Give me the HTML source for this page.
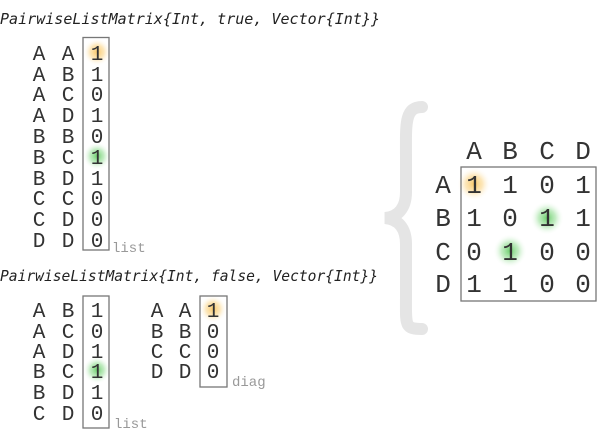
<!DOCTYPE html>
<html><head><meta charset="utf-8"><style>
html,body{margin:0;padding:0;background:#fff;width:600px;height:440px;overflow:hidden}
svg{display:block}
.t{font-family:"DejaVu Sans Mono","Liberation Mono",monospace;font-style:italic;font-size:15px;fill:#222}
.c{font-family:"Liberation Mono","DejaVu Sans Mono",monospace;font-size:21px;fill:#333;text-anchor:middle}
.m{font-family:"Liberation Mono","DejaVu Sans Mono",monospace;font-size:26px;fill:#333;text-anchor:middle}
.g{font-family:"Liberation Mono",monospace;font-size:14px;fill:#999}
</style></head><body>
<svg width="600" height="440" viewBox="0 0 600 440" xmlns="http://www.w3.org/2000/svg">
<defs>
<radialGradient id="o"><stop offset="0" stop-color="#f8c25a" stop-opacity="0.9"/><stop offset="0.5" stop-color="#fbd78c" stop-opacity="0.6"/><stop offset="1" stop-color="#fff" stop-opacity="0"/></radialGradient>
<radialGradient id="gr"><stop offset="0" stop-color="#5cc95c" stop-opacity="0.9"/><stop offset="0.5" stop-color="#9be09b" stop-opacity="0.6"/><stop offset="1" stop-color="#fff" stop-opacity="0"/></radialGradient>
</defs>
<text class="t" x="0" y="24" textLength="380" lengthAdjust="spacingAndGlyphs">PairwiseListMatrix{Int, true, Vector{Int}}</text>
<circle cx="97" cy="52" r="14" fill="url(#o)"/>
<circle cx="97" cy="156" r="14" fill="url(#gr)"/>
<rect x="83" y="37.5" width="26" height="212.5" fill="none" stroke="#777" stroke-width="1.3"/>
<g class="c">
<text x="39" y="60">A</text><text x="68" y="60">A</text><text x="97" y="60">1</text>
<text x="39" y="81">A</text><text x="68" y="81">B</text><text x="97" y="81">1</text>
<text x="39" y="101">A</text><text x="68" y="101">C</text><text x="97" y="101">0</text>
<text x="39" y="122">A</text><text x="68" y="122">D</text><text x="97" y="122">1</text>
<text x="39" y="143">B</text><text x="68" y="143">B</text><text x="97" y="143">0</text>
<text x="39" y="164">B</text><text x="68" y="164">C</text><text x="97" y="164">1</text>
<text x="39" y="185">B</text><text x="68" y="185">D</text><text x="97" y="185">1</text>
<text x="39" y="205">C</text><text x="68" y="205">C</text><text x="97" y="205">0</text>
<text x="39" y="226">C</text><text x="68" y="226">D</text><text x="97" y="226">0</text>
<text x="39" y="247">D</text><text x="68" y="247">D</text><text x="97" y="247">0</text>
</g>
<text class="g" x="112" y="252">list</text>

<text class="t" x="0" y="281" textLength="378" lengthAdjust="spacingAndGlyphs">PairwiseListMatrix{Int, false, Vector{Int}}</text>
<circle cx="97" cy="370" r="14" fill="url(#gr)"/>
<circle cx="213" cy="309" r="14" fill="url(#o)"/>
<rect x="83" y="296" width="26" height="132" fill="none" stroke="#777" stroke-width="1.3"/>
<rect x="200" y="296" width="27" height="91" fill="none" stroke="#777" stroke-width="1.3"/>
<g class="c">
<text x="39" y="317">A</text><text x="68" y="317">B</text><text x="97" y="317">1</text>
<text x="39" y="338">A</text><text x="68" y="338">C</text><text x="97" y="338">0</text>
<text x="39" y="358">A</text><text x="68" y="358">D</text><text x="97" y="358">1</text>
<text x="39" y="378">B</text><text x="68" y="378">C</text><text x="97" y="378">1</text>
<text x="39" y="399">B</text><text x="68" y="399">D</text><text x="97" y="399">1</text>
<text x="39" y="420">C</text><text x="68" y="420">D</text><text x="97" y="420">0</text>
<text x="157" y="317">A</text><text x="185" y="317">A</text><text x="213" y="317">1</text>
<text x="157" y="338">B</text><text x="185" y="338">B</text><text x="213" y="338">0</text>
<text x="157" y="358">C</text><text x="185" y="358">C</text><text x="213" y="358">0</text>
<text x="157" y="378">D</text><text x="185" y="378">D</text><text x="213" y="378">0</text>
</g>
<text class="g" x="114" y="428">list</text>
<text class="g" x="232" y="386">diag</text>

<path d="M422 107 C404 107 406 125 406 160 L406 192 C406 208 398 217 385 218 C398 219 406 228 406 244 L406 295 C406 325 404 329 422 329" fill="none" stroke="#e5e5e5" stroke-width="12" stroke-linecap="round"/>

<circle cx="474" cy="184" r="17" fill="url(#o)"/>
<circle cx="547" cy="218" r="17" fill="url(#gr)"/>
<circle cx="510" cy="251" r="17" fill="url(#gr)"/>
<rect x="461" y="167" width="135" height="134" fill="none" stroke="#777" stroke-width="1.3"/>
<g class="m">
<text x="474" y="159">A</text><text x="510" y="159">B</text><text x="547" y="159">C</text><text x="583" y="159">D</text>
<text x="443" y="193">A</text><text x="474" y="193">1</text><text x="510" y="193">1</text><text x="547" y="193">0</text><text x="583" y="193">1</text>
<text x="443" y="226">B</text><text x="474" y="226">1</text><text x="510" y="226">0</text><text x="547" y="226">1</text><text x="583" y="226">1</text>
<text x="443" y="260">C</text><text x="474" y="260">0</text><text x="510" y="260">1</text><text x="547" y="260">0</text><text x="583" y="260">0</text>
<text x="443" y="292">D</text><text x="474" y="292">1</text><text x="510" y="292">1</text><text x="547" y="292">0</text><text x="583" y="292">0</text>
</g>
</svg>
</body></html>
